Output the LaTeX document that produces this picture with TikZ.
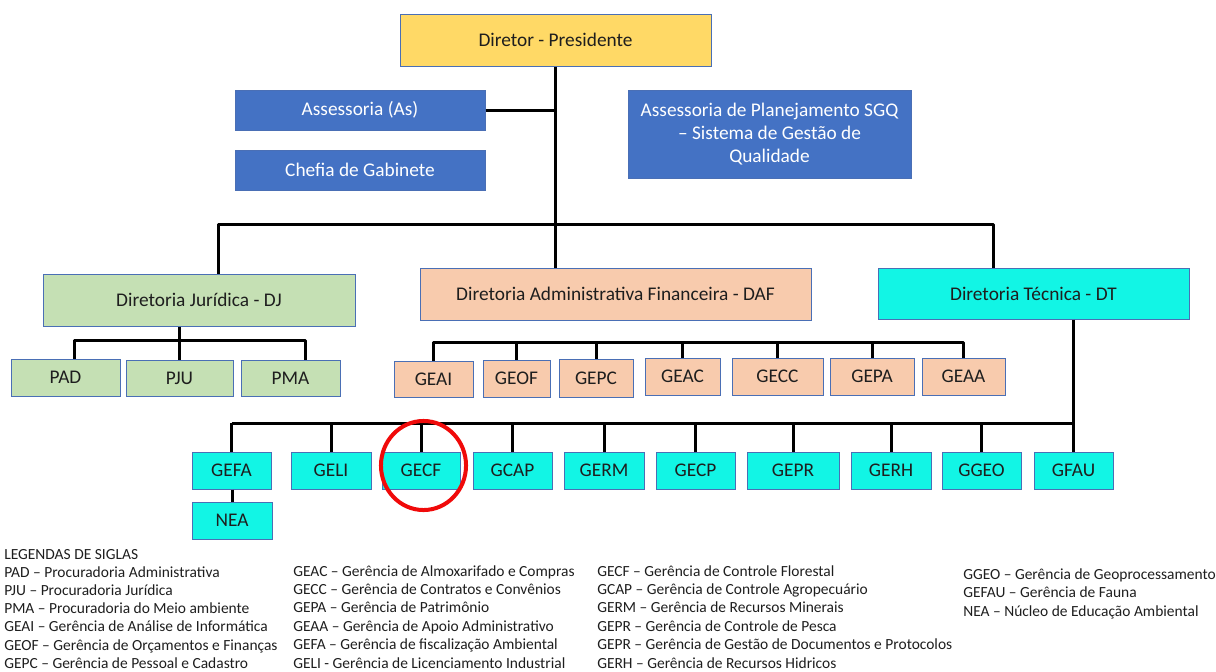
\documentclass[tikz,border=0pt]{standalone}
\usepackage{fontspec}
\setmainfont{Carlito}
\usetikzlibrary{calc}

\definecolor{presfill}{HTML}{FFD966}
\definecolor{assfill}{HTML}{4472C4}
\definecolor{djfill}{HTML}{C5E0B4}
\definecolor{daffill}{HTML}{F8CBAD}
\definecolor{dtfill}{RGB}{18,245,229}
\definecolor{boxline}{HTML}{4A6FB5}
\definecolor{txt}{HTML}{1E1E1E}
\definecolor{ringred}{RGB}{240,10,10}

\begin{document}
\begin{tikzpicture}[x=0.75pt,y=-0.75pt,
  box/.style={draw=boxline, line width=0.75pt, inner sep=0pt, text=txt,
    font=\fontsize{14.5}{17.4}\selectfont, align=center},
  sz/.style 2 args={minimum width=#1*0.75pt, minimum height=#2*0.75pt},
  pres/.style={box, fill=presfill},
  ass/.style={box, fill=assfill, text=white},
  djbox/.style={box, fill=djfill},
  dafbox/.style={box, fill=daffill},
  dtbox/.style={box, fill=dtfill},
  conn/.style={line width=2.25pt, black, line join=round},
  ring/.style={line width=3pt, draw=ringred},
  legend/.style={anchor=base west, inner sep=0pt, text=txt,
    font=\fontsize{11.6}{13.9}\selectfont}]

\useasboundingbox (0,0) rectangle (1216,671);

% ---- top level ----
\node[pres, sz={311}{52}] (pres) at (555.5,40) {Diretor - Presidente};
\node[ass, sz={250}{40}] (as) at (360,110) {Assessoria (As)};
\node[ass, sz={250}{40}] (cg) at (360,170) {Chefia de Gabinete};
\node[ass, sz={283}{88}] (sgq) at (769.5,134)
  {Assessoria de Planejamento SGQ\\ -- Sistema de Gestão de\\ Qualidade};

% ---- directorates ----
\node[djbox, sz={312}{52}] (dj) at (199,300) {Diretoria Jurídica - DJ};
\node[dafbox, sz={391}{52}] (daf) at (615.5,294) {Diretoria Administrativa Financeira - DAF};
\node[dtbox, sz={311}{51}] (dt) at (1033.5,293.5) {Diretoria Técnica - DT};

% ---- legal units ----
\node[djbox, sz={109}{37}] (pad) at (65.5,377.5) {PAD};
\node[djbox, sz={107}{36}] (pju) at (179.5,378) {PJU};
\node[djbox, sz={99}{36}] (pma) at (290.5,378) {PMA};

% ---- administrative units ----
\node[dafbox, sz={79}{36}] (geai) at (433.5,379) {GEAI};
\node[dafbox, sz={67}{37}] (geof) at (516.5,378.5) {GEOF};
\node[dafbox, sz={74}{38}] (gepc) at (596,378) {GEPC};
\node[dafbox, sz={75}{37}] (geac) at (682.5,376.5) {GEAC};
\node[dafbox, sz={91}{37}] (gecc) at (777.5,376.5) {GECC};
\node[dafbox, sz={84}{37}] (gepa) at (872,376.5) {GEPA};
\node[dafbox, sz={83}{37}] (geaa) at (963.5,376.5) {GEAA};

% ---- technical units ----
\node[dtbox, sz={79}{37}] (gefa) at (231.5,470.5) {GEFA};
\node[dtbox, sz={80}{37}] (geli) at (331,470.5) {GELI};
\node[dtbox, sz={78}{37}] (gecf) at (421,470.5) {GECF};
\node[dtbox, sz={79}{37}] (gcap) at (512.5,470.5) {GCAP};
\node[dtbox, sz={80}{37}] (germ) at (604,470.5) {GERM};
\node[dtbox, sz={79}{37}] (gecp) at (695.5,470.5) {GECP};
\node[dtbox, sz={92}{37}] (gepr) at (793,470.5) {GEPR};
\node[dtbox, sz={80}{37}] (gerh) at (891,470.5) {GERH};
\node[dtbox, sz={79}{37}] (ggeo) at (981.5,470.5) {GGEO};
\node[dtbox, sz={79}{37}] (gfau) at (1073.5,470.5) {GFAU};
\node[dtbox, sz={80}{37}] (nea) at (232,520.5) {NEA};

% ---- bus levels ----
\coordinate (topbar) at (0,224);
\coordinate (dafbar) at (0,342);
\coordinate (dtbar) at (0,423);

% ---- connectors: president ----
\draw[conn] (pres.south) -- (pres.south |- daf.north);
\draw[conn] (as.east) -- (as.east -| pres.south);
\draw[conn] ($(cg.east)+(0,3)$) -- ($(cg.east)+(0,3)$ -| pres.south);
\draw[conn] ($(sgq.west)+(0,11)$) -- ($(sgq.west)+(0,11)$ -| pres.south);
\draw[conn] ($(dj.north)+(19,0)$) |- (pres.south |- topbar) -| ($(dt.north)+(-40.5,0)$);

% ---- connectors: legal ----
\draw[conn] (pju.north |- dj.south) -- (pju.north);
\draw[conn] ($(pad.north)+(8.5,0)$) -- ++(0,-18) -| ($(pma.north)+(14.5,0)$);

% ---- connectors: administrative ----
\draw[conn] (geai.north) |- (geaa.north |- dafbar) -- (geaa.north);
\foreach \n in {geof,gepc,geac,gecc,gepa}
  \draw[conn] (\n.north) -- (\n.north |- dafbar);

% ---- connectors: technical ----
\draw[conn] (gfau.north |- dt.south) -- (gfau.north);
\draw[conn] (gefa.north |- dtbar) -- (gfau.north |- dtbar);
\foreach \n in {gefa,geli,gecf,gcap,germ,gecp,gepr,gerh,ggeo}
  \draw[conn] (\n.north) -- (\n.north |- dtbar);
\draw[conn] (nea.north |- gefa.south) -- (nea.north);

% ---- highlight ring ----
\draw[ring] ($(gecf.center)+(2.5,-5)$) ellipse [x radius=31.9pt, y radius=33.4pt];

% ---- legend ----
\node[legend] (l0) at (4,559) {LEGENDAS DE SIGLAS};
\node[legend] (l1) at (4,577.2) {PAD -- Procuradoria Administrativa};
\node[legend] (l2) at (4,595.4) {PJU -- Procuradoria Jurídica};
\node[legend] (l3) at (4,613.6) {PMA -- Procuradoria do Meio ambiente};
\node[legend] (l4) at (4,631.8) {GEAI -- Gerência de Análise de Informática};
\node[legend] (l5) at (4,650) {GEOF -- Gerência de Orçamentos e Finanças};
\node[legend] (l6) at (4,668.2) {GEPC -- Gerência de Pessoal e Cadastro};

\node[legend] (m1) at (293,576) {GEAC -- Gerência de Almoxarifado e Compras};
\node[legend] (m2) at (293,594.4) {GECC -- Gerência de Contratos e Convênios};
\node[legend] (m3) at (293,612.8) {GEPA -- Gerência de Patrimônio};
\node[legend] (m4) at (293,631.2) {GEAA -- Gerência de Apoio Administrativo};
\node[legend] (m5) at (293,649.6) {GEFA -- Gerência de fiscalização Ambiental};
\node[legend] (m6) at (293,668) {GELI - Gerência de Licenciamento Industrial};

\node[legend] (r1) at (597,576) {GECF -- Gerência de Controle Florestal};
\node[legend] (r2) at (597,594.4) {GCAP -- Gerência de Controle Agropecuário};
\node[legend] (r3) at (597,612.8) {GERM -- Gerência de Recursos Minerais};
\node[legend] (r4) at (597,631.2) {GEPR -- Gerência de Controle de Pesca};
\node[legend] (r5) at (597,649.6) {GEPR -- Gerência de Gestão de Documentos e Protocolos};
\node[legend] (r6) at (597,668) {GERH -- Gerência de Recursos Hidricos};

\node[legend] (s1) at (963,579) {GGEO -- Gerência de Geoprocessamento};
\node[legend] (s2) at (963,597.5) {GEFAU -- Gerência de Fauna};
\node[legend] (s3) at (963,616) {NEA -- Núcleo de Educação Ambiental};
\end{tikzpicture}
\end{document}
